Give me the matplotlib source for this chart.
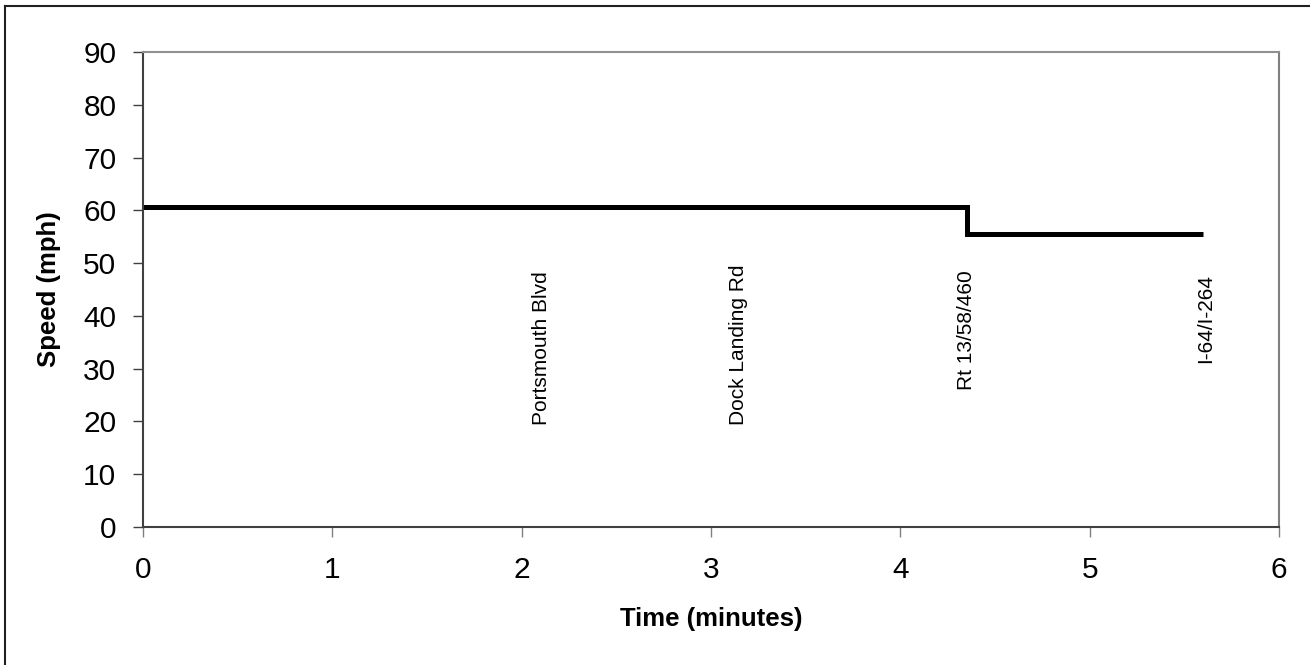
import matplotlib as mpl
import matplotlib.pyplot as plt
from matplotlib.lines import Line2D

mpl.rcParams['font.family'] = ['Liberation Sans', 'DejaVu Sans']

# step profile: speed held from each time until the next
step_times = [0.0, 4.354, 5.598]
step_speeds = [60.7, 55.5, 55.5]

# interchange labels (time, label bottom in mph)
road_names = ['Portsmouth Blvd', 'Dock Landing Rd', 'Rt 13/58/460', 'I-64/I-264']
road_times = [2.105, 3.143, 4.351, 5.610]
road_bottoms = [19.3, 19.3, 25.9, 31.1]

x_ticks = [0, 1, 2, 3, 4, 5, 6]
y_ticks = [0, 10, 20, 30, 40, 50, 60, 70, 80, 90]

fig = plt.figure(figsize=(13.1, 6.65), dpi=100)
ax = fig.add_axes([143/1310, 1 - 526.7/665, (1279 - 143)/1310, (526.7 - 52.3)/665])

ax.plot(step_times, step_speeds, drawstyle='steps-post', color='black',
        lw=3.6, solid_joinstyle='miter', solid_capstyle='butt', clip_on=False)

for name, t, yb in zip(road_names, road_times, road_bottoms):
    ax.text(t, yb, name, rotation=90, ha='center', va='bottom', fontsize=15)

ax.set_xlim(0, 6)
ax.set_ylim(0, 90)
ax.set_xticks(x_ticks)
ax.set_yticks(y_ticks)
ax.tick_params(axis='both', labelsize=21.5, direction='out')
ax.tick_params(axis='y', length=7.2, width=1, color='#404040', pad=12)
ax.tick_params(axis='x', length=7, width=1, color='#808080', pad=14)

ax.spines['left'].set_color('#404040')
ax.spines['bottom'].set_color('#404040')
ax.spines['top'].set_color('#909090')
ax.spines['right'].set_color('#808080')
for s in ax.spines.values():
    s.set_linewidth(1.5)

ax.set_xlabel('Time (minutes)', fontsize=18.5, fontweight='bold', labelpad=17)
ax.set_ylabel('Speed (mph)', fontsize=18.5, fontweight='bold', labelpad=16)

# outer chart border (cut at right/bottom edges)
fig.add_artist(Line2D([5/1310, 5/1310], [0, 1 - 6/665], color='#202020', lw=1.5))
fig.add_artist(Line2D([5/1310, 1], [1 - 6/665, 1 - 6/665], color='#202020', lw=1.5))

fig.savefig('out.png', dpi=100)
